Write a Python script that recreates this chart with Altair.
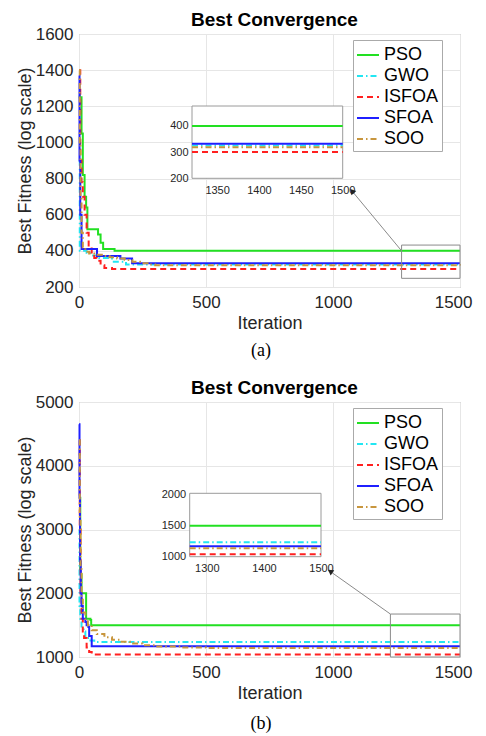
import altair as alt
import pandas as pd

# ---------------- shared ----------------
names = ["PSO", "GWO", "ISFOA", "SFOA", "SOO"]
colors = ["#22e022", "#22e6f2", "#ff2020", "#1f1fff", "#c8963e"]
dashes = [[1, 0], [6, 3, 1.5, 3], [6, 4], [1, 0], [6, 3, 1.5, 3]]
x_ticks = [0, 500, 1000, 1500]
captions = ["(a)", "(b)"]
title_text = "Best Convergence"

# ---------------- panel (a) ----------------
a_pso_it = [1, 3, 10, 15, 22, 28, 33, 70, 75, 85, 95, 140, 1500]
a_pso_val = [1260, 1250, 1050, 820, 700, 640, 520, 520, 490, 445, 410, 400, 400]
a_gwo_it = [0, 3, 30, 45, 80, 130, 185, 1500]
a_gwo_val = [900, 400, 390, 375, 360, 340, 325, 325]
a_isfoa_it = [0, 5, 10, 15, 22, 30, 38, 50, 60, 70, 85, 100, 130, 1500]
a_isfoa_val = [1400, 900, 780, 700, 600, 500, 420, 380, 360, 345, 320, 305, 300, 300]
a_sfoa_it = [0, 2, 5, 10, 71, 163, 209, 1500]
a_sfoa_val = [1370, 900, 600, 410, 372, 358, 332, 332]
a_soo_it = [0, 3, 6, 10, 15, 25, 40, 60, 90, 120, 150, 180, 210, 240, 270, 300, 1500]
a_soo_val = [1400, 1000, 700, 500, 420, 395, 385, 378, 372, 365, 358, 350, 340, 332, 325, 320, 319]
a_y_domain = [200, 1600]
a_y_ticks = [200, 400, 600, 800, 1000, 1200, 1400, 1600]
a_box_x = [1270, 1500]
a_box_y = [248, 432]
a_arrow_x = [1270, 1075]
a_arrow_y = [400, 731]
a_inset_x = [1320, 1500]
a_inset_y = [200, 476]
a_inset_xticks = [1350, 1400, 1450, 1500]
a_inset_yticks = [200, 300, 400]

# ---------------- panel (b) ----------------
b_pso_it = [0, 5, 10, 26, 28, 45, 48, 1500]
b_pso_val = [3500, 2300, 2000, 2000, 1600, 1580, 1500, 1500]
b_gwo_it = [0, 2, 5, 10, 18, 25, 45, 60, 1500]
b_gwo_val = [3000, 1800, 1600, 1450, 1400, 1300, 1260, 1235, 1235]
b_isfoa_it = [0, 3, 6, 10, 15, 20, 30, 40, 50, 1500]
b_isfoa_val = [4400, 3000, 2000, 1600, 1400, 1300, 1150, 1080, 1040, 1040]
b_sfoa_it = [0, 2, 4, 7, 10, 15, 25, 30, 37, 40, 50, 1500]
b_sfoa_val = [4650, 3500, 2500, 2000, 1800, 1600, 1550, 1500, 1470, 1330, 1170, 1170]
b_soo_it = [0, 3, 6, 10, 15, 25, 35, 50, 70, 100, 130, 160, 200, 250, 300, 400, 500, 1500]
b_soo_val = [4400, 3200, 2400, 1900, 1700, 1580, 1500, 1420, 1360, 1310, 1270, 1240, 1210,
             1185, 1165, 1150, 1140, 1135]
b_y_domain = [1000, 5000]
b_y_ticks = [1000, 2000, 3000, 4000, 5000]
b_box_x = [1226, 1500]
b_box_y = [1000, 1674]
b_arrow_x = [1226, 989]
b_arrow_y = [1674, 2343]
b_inset_x = [1270, 1500]
b_inset_y = [1000, 2025]
b_inset_xticks = [1300, 1400, 1500]
b_inset_yticks = [1000, 1500, 2000]

FONT = "Liberation Sans"
W = 381


def series_df(its, vals):
    rows = []
    for name, it, val in zip(names, its, vals):
        for i, v in zip(it, val):
            rows.append({"alg": name, "it": i, "val": v})
    return pd.DataFrame(rows)


def final_df(vals, inset_x):
    return pd.DataFrame({"alg": names, "val": [v[-1] for v in vals],
                         "x0": [inset_x[0]] * len(names), "x1": [inset_x[1]] * len(names)})


legend = alt.Legend(orient="none", legendX=274, legendY=6, symbolType="stroke",
                    symbolSize=484, symbolStrokeWidth=2, labelFontSize=18, labelFont=FONT,
                    labelColor="#000000", padding=3, rowPadding=0, labelOffset=4,
                    strokeColor="#aaaaaa", fillColor="white", symbolOpacity=1)

last_x = x_ticks[-1]
x_label_align = {"condition": {"test": f"datum.value == {last_x}", "value": "right"},
                 "value": "center"}
x_label_offset = {"condition": {"test": f"datum.value == {last_x}", "value": 12},
                  "value": 0}


def panel(its, vals, ydom, yticks, box_x, box_y, arr_x, arr_y, arr_angle,
          ins_x, ins_y, ins_xt, ins_yt, ins_xr, ins_yr, H, caption, cap_dy):
    df = series_df(its, vals)
    xaxis = alt.Axis(values=x_ticks, format="d", title="Iteration", ticks=False, domain=False,
                     labelFlush=False, labelAlign=x_label_align, labelOffset=x_label_offset,
                     labelFontSize=17, labelPadding=7, titleFontSize=18,
                     titlePadding=4, titleFontWeight="normal", gridColor="#e6e6e6",
                     labelColor="#262626", titleColor="#262626", orient="bottom")
    yaxis = alt.Axis(values=yticks, format="d", title="Best Fitness (log scale)", ticks=False,
                     domain=False, labelFlush=False, labelFontSize=17, labelPadding=6,
                     titleFontSize=18, titlePadding=1, titleFontWeight="normal",
                     gridColor="#e6e6e6", labelColor="#262626", titleColor="#262626",
                     orient="left")
    xs = alt.Scale(domain=[0, 1500], nice=False)
    ys = alt.Scale(domain=ydom, nice=False, zero=False)
    cenc = alt.Color("alg:N", scale=alt.Scale(domain=names, range=colors), legend=legend, title=None)
    denc = alt.StrokeDash("alg:N", scale=alt.Scale(domain=names, range=dashes), legend=legend, title=None)

    lines = alt.Chart(df).mark_line(interpolate="step-after", strokeWidth=2).encode(
        x=alt.X("it:Q", scale=xs, axis=xaxis),
        y=alt.Y("val:Q", scale=ys, axis=yaxis),
        color=cenc, strokeDash=denc)
    boxdf = pd.DataFrame({"x0": [box_x[0]], "x1": [box_x[1]], "y0": [box_y[0]], "y1": [box_y[1]]})
    box = alt.Chart(boxdf).mark_rect(fill="transparent", stroke="#8a8a8a", strokeWidth=1).encode(
        x=alt.X("x0:Q", scale=xs, axis=xaxis), x2="x1",
        y=alt.Y("y0:Q", scale=ys, axis=yaxis), y2="y1")
    adf = pd.DataFrame({"x0": [arr_x[0]], "x1": [arr_x[1]], "y0": [arr_y[0]], "y1": [arr_y[1]]})
    arrow = alt.Chart(adf).mark_rule(color="#8a8a8a", strokeWidth=1).encode(
        x=alt.X("x0:Q", scale=xs, axis=xaxis), x2="x1",
        y=alt.Y("y0:Q", scale=ys, axis=yaxis), y2="y1")
    head = alt.Chart(adf).mark_point(shape="triangle-up", filled=True, color="#222222",
                                     size=40, angle=arr_angle, opacity=1).encode(
        x=alt.X("x1:Q", scale=xs, axis=xaxis),
        y=alt.Y("y1:Q", scale=ys, axis=yaxis))
    main = alt.layer(lines, box, arrow, head)

    ixs = alt.Scale(domain=ins_x, range=ins_xr, nice=False)
    iys = alt.Scale(domain=ins_y, range=ins_yr, nice=False, zero=False)
    ixaxis = alt.Axis(values=ins_xt, format="d", orient="bottom", offset=-(H - ins_yr[0]),
                      grid=False, ticks=False, domain=False, labelFlush=False,
                      labelFontSize=11, labelPadding=6, labelColor="#262626", title=None)
    iyaxis = alt.Axis(values=ins_yt, format="d", orient="left", offset=-ins_xr[0], grid=False,
                      ticks=False, domain=False, labelFlush=False, labelFontSize=11,
                      labelPadding=4, labelColor="#262626", title=None)
    ibdf = pd.DataFrame({"x0": [ins_x[0]], "x1": [ins_x[1]], "y0": [ins_y[0]], "y1": [ins_y[1]]})
    ibg = alt.Chart(ibdf).mark_rect(fill="white", stroke="#9a9a9a", strokeWidth=1).encode(
        x=alt.X("x0:Q", scale=ixs, axis=ixaxis), x2="x1",
        y=alt.Y("y0:Q", scale=iys, axis=iyaxis), y2="y1")
    irules = alt.Chart(final_df(vals, ins_x)).mark_rule(strokeWidth=2).encode(
        x=alt.X("x0:Q", scale=ixs, axis=ixaxis), x2="x1",
        y=alt.Y("val:Q", scale=iys, axis=iyaxis),
        color=cenc, strokeDash=denc)
    inset = alt.layer(ibg, irules)

    cap = alt.Chart(pd.DataFrame({"t": [caption]})).mark_text(
        font="Liberation Serif", fontSize=18, color="#000000", baseline="middle").encode(
        text="t:N", x=alt.value(182), y=alt.value(H + cap_dy))

    return alt.layer(main, inset, cap).resolve_scale(x="independent", y="independent").properties(
        width=W, height=H,
        title=alt.Title(title_text, fontSize=19, fontWeight="bold", font=FONT, offset=-5,
                        dx=5, color="#000000"))


top = panel([a_pso_it, a_gwo_it, a_isfoa_it, a_sfoa_it, a_soo_it],
            [a_pso_val, a_gwo_val, a_isfoa_val, a_sfoa_val, a_soo_val],
            a_y_domain, a_y_ticks, a_box_x, a_box_y, a_arrow_x, a_arrow_y, 319,
            a_inset_x, a_inset_y, a_inset_xticks, a_inset_yticks,
            [113, 263.7], [144.3, 72], 253, captions[0], 64)
bottom = panel([b_pso_it, b_gwo_it, b_isfoa_it, b_sfoa_it, b_soo_it],
               [b_pso_val, b_gwo_val, b_isfoa_val, b_sfoa_val, b_soo_val],
               b_y_domain, b_y_ticks, b_box_x, b_box_y, b_arrow_x, b_arrow_y, 305,
               b_inset_x, b_inset_y, b_inset_xticks, b_inset_yticks,
               [110.7, 242], [154.7, 91.3], 255, captions[1], 67)

chart = alt.vconcat(top, bottom, spacing=17).resolve_scale(
    color="independent", strokeDash="independent").properties(
    padding={"left": 7, "top": 2, "right": 0, "bottom": 0}).configure(
    font=FONT).configure_view(stroke="#9a9a9a", strokeWidth=1)

chart.save("out.html", embed_options={"renderer": "svg", "actions": False})
